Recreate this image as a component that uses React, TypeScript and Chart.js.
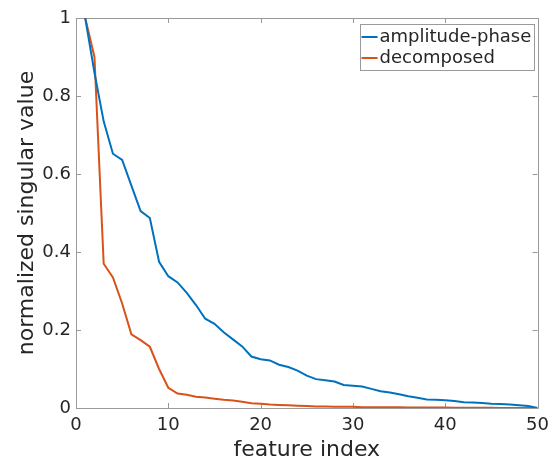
import React, { useEffect, useRef } from "react";
import { Chart, registerables } from "chart.js";

Chart.register(...registerables);

const featureIndex = [
  1, 2, 3, 4, 5, 6, 7, 8, 9, 10, 11, 12, 13, 14, 15, 16, 17, 18, 19, 20, 21, 22, 23, 24, 25,
  26, 27, 28, 29, 30, 31, 32, 33, 34, 35, 36, 37, 38, 39, 40, 41, 42, 43, 44, 45, 46, 47, 48, 49, 50,
];

const amplitudePhase = [
  1.0, 0.86, 0.735, 0.652, 0.636, 0.57, 0.505, 0.487, 0.375, 0.338,
  0.322, 0.295, 0.264, 0.229, 0.216, 0.194, 0.176, 0.158, 0.132, 0.125,
  0.122, 0.111, 0.105, 0.096, 0.083, 0.074, 0.071, 0.068, 0.059, 0.057,
  0.055, 0.049, 0.043, 0.04, 0.035, 0.03, 0.026, 0.022, 0.021, 0.02,
  0.018, 0.015, 0.014, 0.013, 0.011, 0.01, 0.009, 0.007, 0.005, 0.0,
];

const decomposed = [
  1.0, 0.9, 0.37, 0.335, 0.268, 0.189, 0.174, 0.157, 0.1, 0.052,
  0.037, 0.034, 0.029, 0.027, 0.024, 0.021, 0.019, 0.016, 0.012, 0.011,
  0.009, 0.008, 0.007, 0.006, 0.005, 0.004, 0.004, 0.003, 0.003, 0.003,
  0.002, 0.002, 0.002, 0.002, 0.002, 0.001, 0.001, 0.001, 0.001, 0.001,
  0.0005, 0.0005, 0.0005, 0.0005, 0.0004, 0.0003, 0.0002, 0.0001, 0.0, 0.0,
];

const seriesLabels = ["amplitude-phase", "decomposed"];
const seriesColors = ["#0072BD", "#D95319"];
const xTicks = [0, 10, 20, 30, 40, 50];
const yTicks = [0, 0.2, 0.4, 0.6, 0.8, 1];
const xTitle = "feature index";
const yTitle = "normalized singular value";

const FONT = "'DejaVu Sans', sans-serif";
const AXIS_COLOR = "#9a9a9a";
const TEXT_COLOR = "#262626";

const boxPlugin = {
  id: "matlabBox",
  beforeDatasetsDraw(chart: any) {
    const { ctx, chartArea: a, scales } = chart;
    const x = scales.x;
    const y = scales.y;
    ctx.save();
    ctx.strokeStyle = AXIS_COLOR;
    ctx.lineWidth = 1;
    ctx.beginPath();
    ctx.rect(Math.round(a.left) + 0.5, Math.round(a.top) + 0.5, Math.round(a.right - a.left), Math.round(a.bottom - a.top));
    const tl = 5;
    xTicks.forEach((v) => {
      const px = Math.round(x.getPixelForValue(v)) + 0.5;
      ctx.moveTo(px, a.bottom);
      ctx.lineTo(px, a.bottom - tl);
      ctx.moveTo(px, a.top);
      ctx.lineTo(px, a.top + tl);
    });
    yTicks.forEach((v) => {
      const py = Math.round(y.getPixelForValue(v)) + 0.5;
      ctx.moveTo(a.left, py);
      ctx.lineTo(a.left + tl, py);
      ctx.moveTo(a.right, py);
      ctx.lineTo(a.right - tl, py);
    });
    ctx.stroke();
    ctx.restore();
  },
  afterDraw(chart: any) {
    const { ctx, chartArea: a } = chart;
    const boxRight = a.right - 4;
    const boxLeft = boxRight - 174;
    const boxTop = a.top + 6;
    const boxBottom = boxTop + 46;
    ctx.save();
    ctx.fillStyle = "#ffffff";
    ctx.fillRect(boxLeft, boxTop, boxRight - boxLeft, boxBottom - boxTop);
    ctx.strokeStyle = AXIS_COLOR;
    ctx.lineWidth = 1;
    ctx.strokeRect(Math.round(boxLeft) + 0.5, Math.round(boxTop) + 0.5, Math.round(boxRight - boxLeft), Math.round(boxBottom - boxTop));
    ctx.font = `18px ${FONT}`;
    ctx.textBaseline = "middle";
    ctx.textAlign = "left";
    chart.data.datasets.forEach((ds: any, i: number) => {
      const cy = boxTop + 13 + i * 21;
      ctx.strokeStyle = ds.borderColor;
      ctx.lineWidth = 2;
      ctx.beginPath();
      ctx.moveTo(boxLeft + 2, cy);
      ctx.lineTo(boxLeft + 18, cy);
      ctx.stroke();
      ctx.fillStyle = TEXT_COLOR;
      ctx.fillText(ds.label, boxLeft + 20, cy);
    });
    ctx.restore();
  },
};

export default function App() {
  const canvasRef = useRef<HTMLCanvasElement | null>(null);

  useEffect(() => {
    if (!canvasRef.current) return;
    const chart = new Chart(canvasRef.current, {
      type: "line",
      data: {
        datasets: [amplitudePhase, decomposed].map((vals, i) => ({
          label: seriesLabels[i],
          data: featureIndex.map((fx, j) => ({ x: fx, y: vals[j] })),
          borderColor: seriesColors[i],
          backgroundColor: seriesColors[i],
          borderWidth: 2,
          pointRadius: 0,
          tension: 0,
          fill: false,
        })),
      },
      options: {
        animation: false,
        responsive: false,
        maintainAspectRatio: false,
        layout: { padding: { top: 18, right: 17, left: 0, bottom: 0 } },
        plugins: {
          legend: { display: false },
          tooltip: { enabled: false },
          title: { display: false },
        },
        scales: {
          x: {
            type: "linear",
            min: 0,
            max: 50,
            afterBuildTicks: (s: any) => {
              s.ticks = xTicks.map((v) => ({ value: v }));
            },
            afterFit: (s: any) => {
              s.height = 53;
            },
            grid: { display: false, drawTicks: false },
            border: { display: false },
            ticks: {
              color: TEXT_COLOR,
              font: { family: FONT, size: 18, lineHeight: 1 },
              padding: 8,
              maxRotation: 0,
              autoSkip: false,
              callback: (v: any) => String(v),
            },
            title: {
              display: true,
              text: xTitle,
              color: TEXT_COLOR,
              font: { family: FONT, size: 22, lineHeight: 1 },
              padding: { top: 0, bottom: 0 },
            },
          },
          y: {
            type: "linear",
            min: 0,
            max: 1,
            afterBuildTicks: (s: any) => {
              s.ticks = yTicks.map((v) => ({ value: v }));
            },
            afterFit: (s: any) => {
              s.width = 76;
            },
            grid: { display: false, drawTicks: false },
            border: { display: false },
            ticks: {
              color: TEXT_COLOR,
              font: { family: FONT, size: 18, lineHeight: 1 },
              padding: 5,
              autoSkip: false,
              callback: (v: any) => String(Math.round(v * 10) / 10),
            },
            title: {
              display: true,
              text: yTitle,
              color: TEXT_COLOR,
              font: { family: FONT, size: 22, lineHeight: 1 },
              padding: { top: 16, bottom: 0 },
            },
          },
        },
      },
      plugins: [boxPlugin],
    });
    return () => chart.destroy();
  }, []);

  return (
    <div style={{ position: "fixed", left: 0, top: 0, width: 557, height: 461, background: "#fff" }}>
      <canvas ref={canvasRef} width={557} height={461} style={{ display: "block", width: 557, height: 461 }} />
    </div>
  );
}
